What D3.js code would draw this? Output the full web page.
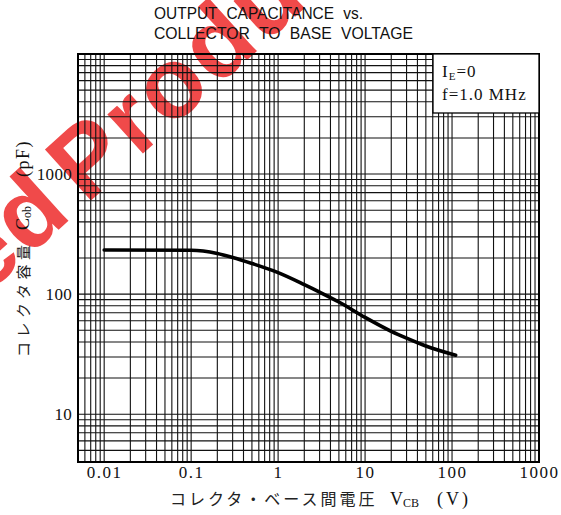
<!DOCTYPE html>
<html><head><meta charset="utf-8">
<script src="https://cdn.jsdelivr.net/npm/d3@7"></script>
<style>html,body{margin:0;padding:0;background:#fff;}</style>
</head><body>
<svg id="c" width="561" height="515"></svg>
<script>
// ---- data ----
const vcb = [0.01, 0.1, 0.2, 0.3, 0.5, 1, 2, 3, 5, 10, 20, 30, 50, 110];
const cob = [233, 232, 218, 202, 180, 151, 120, 104, 86, 64, 49, 43, 37, 31];
const xTickLabels = [0.01, 0.1, 1, 10, 100, 1000];
const yTickLabels = [10, 100, 1000];
const titleLines = ["OUTPUT CAPACITANCE vs.", "COLLECTOR TO BASE VOLTAGE"];
const xDomain = [0.005, 1000];
const yDomain = [4, 10000];

const svg = d3.select("#c");
const L = 78, R = 539, T = 54, B = 462;
const x = d3.scaleLog().domain(xDomain).range([L, R]);
const y = d3.scaleLog().domain(yDomain).range([B, T]);

// watermark (under everything)
const wm = svg.append("g").attr("transform", "translate(86,205) rotate(-42)")
  .attr("fill", "#f04a4a").attr("font-family", "Liberation Sans, Arial, sans-serif")
  .attr("font-weight", "bold").attr("font-size", 100).style("letter-spacing", "3px");
wm.append("text").attr("x", -14).attr("text-anchor", "end").text("Discontinued");
wm.append("text").attr("text-anchor", "start").text("Product");

// grid
const g = svg.append("g");
g.selectAll("line.v").data(x.ticks()).join("line").attr("class", "v")
  .attr("x1", d => x(d)).attr("x2", d => x(d)).attr("y1", T).attr("y2", B)
  .attr("stroke", "#111").attr("stroke-width", 1.1);
g.selectAll("line.h").data(y.ticks()).join("line").attr("class", "h")
  .attr("y1", d => y(d)).attr("y2", d => y(d)).attr("x1", L).attr("x2", R)
  .attr("stroke", "#111").attr("stroke-width", 1.1);
g.append("rect").attr("x", L).attr("y", T).attr("width", R - L).attr("height", B - T)
  .attr("fill", "none").attr("stroke", "#000").attr("stroke-width", 2);

// tick labels via d3 axes (no lines)
const serif = "Liberation Serif, Times New Roman, serif";
const xAxis = svg.append("g").attr("transform", `translate(0,${B})`)
  .call(d3.axisBottom(x).tickValues(xTickLabels).tickSize(0).tickPadding(4)
    .tickFormat(d => String(d)));
xAxis.select(".domain").remove();
xAxis.selectAll("text").attr("font-family", serif).attr("font-size", 17)
  .attr("fill", "#111").style("letter-spacing", "1.5px");
const yAxis = svg.append("g").attr("transform", `translate(${L},0)`)
  .call(d3.axisLeft(y).tickValues(yTickLabels).tickSize(0).tickPadding(6)
    .tickFormat(d => String(d)));
yAxis.select(".domain").remove();
yAxis.selectAll("text").attr("font-family", serif).attr("font-size", 17)
  .attr("fill", "#111").style("letter-spacing", "0.3px");

// info box
svg.append("rect").attr("x", 433).attr("y", T).attr("width", R - 433).attr("height", 59)
  .attr("fill", "#fff").attr("stroke", "#000").attr("stroke-width", 1.3);
const ib = svg.append("text").attr("x", 442).attr("y", 77).attr("font-family", serif)
  .attr("font-size", 17).attr("fill", "#111").style("letter-spacing", "1px");
ib.append("tspan").text("I");
ib.append("tspan").attr("font-size", 11).attr("dy", 3).text("E");
ib.append("tspan").attr("dy", -3).text("=0");
svg.append("text").attr("x", 442).attr("y", 100).attr("font-family", serif)
  .attr("font-size", 17).attr("fill", "#111").style("letter-spacing", "1px").text("f=1.0 MHz");

// curve
const pts = vcb.map((v, i) => [x(v), y(cob[i])]);
svg.append("path").attr("d", d3.line().curve(d3.curveMonotoneX)(pts))
  .attr("fill", "none").attr("stroke", "#000").attr("stroke-width", 3.6)
  .attr("stroke-linecap", "round");

// title
const sans = "Liberation Sans, Arial, sans-serif";
[[19, 209], [39, 259]].forEach(([yy, len], i) => {
  svg.append("text").attr("x", 154).attr("y", yy).attr("font-family", sans)
    .attr("font-size", 16).attr("fill", "#111").style("word-spacing", "5px")
    .attr("textLength", len).attr("lengthAdjust", "spacingAndGlyphs").text(titleLines[i]);
});

// x label
const jp = "Noto Sans CJK JP, sans-serif";
svg.append("text").attr("x", 170).attr("y", 505).attr("font-family", jp)
  .attr("font-size", 16).attr("fill", "#222").style("letter-spacing", "3px")
  .text("コレクタ・ベース間電圧");
const xl = svg.append("text").attr("x", 390).attr("y", 505).attr("font-family", serif)
  .attr("font-size", 18).attr("fill", "#111");
xl.append("tspan").text("V");
xl.append("tspan").attr("font-size", 12).attr("dy", 2).text("CB");
svg.append("text").attr("x", 437).attr("y", 505).attr("font-family", serif)
  .attr("font-size", 18).attr("fill", "#111").style("letter-spacing", "3px").text("(V)");

// y label (rotated)
const yl = svg.append("g").attr("transform", "translate(29,357) rotate(-90)");
yl.append("text").attr("font-family", jp).attr("font-size", 15).attr("fill", "#222")
  .style("letter-spacing", "4.5px").text("コレクタ容量");
const yl2 = yl.append("text").attr("x", 127).attr("font-family", serif)
  .attr("font-size", 18).attr("fill", "#111");
yl2.append("tspan").text("C");
yl2.append("tspan").attr("font-size", 12).attr("dy", 2).text("ob");
yl.append("text").attr("x", 180).attr("font-family", serif).attr("font-size", 18)
  .attr("fill", "#111").style("letter-spacing", "1.5px").text("(pF)");
</script>
</body></html>
